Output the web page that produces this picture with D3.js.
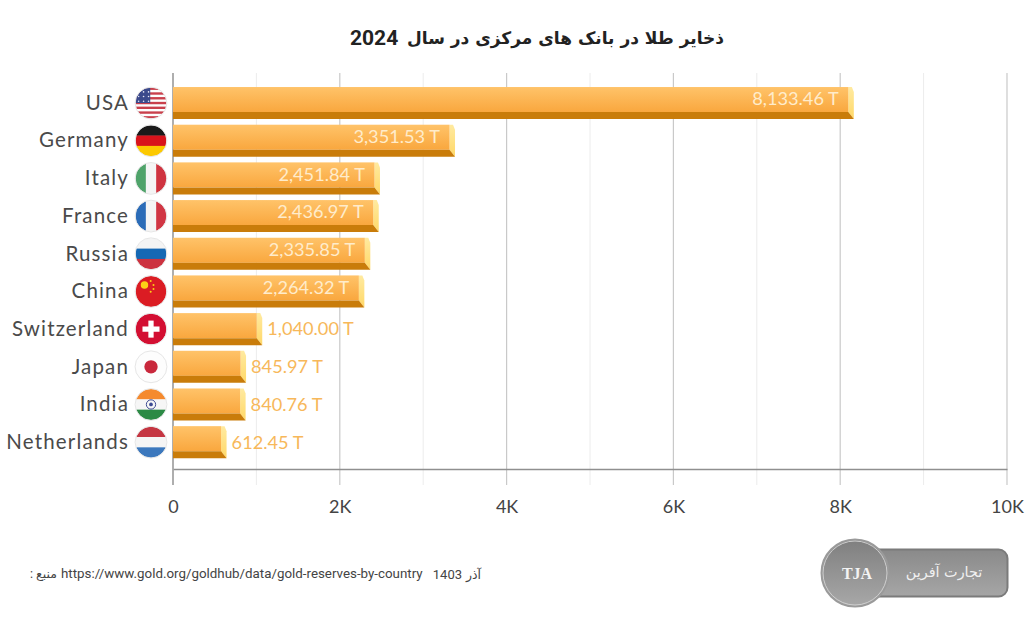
<!DOCTYPE html>
<html lang="en">
<head>
  <meta charset="UTF-8">
  <title>Gold reserves 2024</title>
  <style>
body { margin: 0; background: #fff; }
svg { display: block; }
.country { font-family: Lato, sans-serif; font-size: 20.5px; fill: #4a4a4a; letter-spacing: 1.15px; }
.value { font-family: Lato, sans-serif; font-size: 18.2px; }
.tick text { font-family: Lato, sans-serif; font-size: 18px; fill: #444; }
  </style>
</head>
<body>
  <div id="chart"></div>
  <script src="https://d3js.org/d3.v7.min.js"></script>
  <script>
const countries = ["USA", "Germany", "Italy", "France", "Russia", "China", "Switzerland", "Japan", "India", "Netherlands"];
const reserves = [8133.46, 3351.53, 2451.84, 2436.97, 2335.85, 2264.32, 1040.00, 845.97, 840.76, 612.45];
const majorTicks = [0, 2000, 4000, 6000, 8000, 10000];
const minorTicks = [1000, 3000, 5000, 7000, 9000];
const titleText = "ذخایر طلا در بانک های مرکزی در سال";
const titleYear = "2024";

const width = 1030, height = 620;
const plotLeft = 173, plotRight = 1007, plotTop = 73, axisY = 469, axisEnd = 485;

const x = d3.scaleLinear().domain([0, 10000]).range([plotLeft, plotRight]);
const y = d3.scaleBand().domain(countries).range([84.2, 461]).paddingInner(0.15).paddingOuter(0.075);

const svg = d3.select("#chart").append("svg").attr("width", width).attr("height", height);
const defs = svg.append("defs");

const grad = defs.append("linearGradient").attr("id", "face").attr("x1", 0).attr("x2", 0).attr("y1", 0).attr("y2", 1);
grad.append("stop").attr("offset", "0%").attr("stop-color", "#ffc369");
grad.append("stop").attr("offset", "100%").attr("stop-color", "#f9a73e");

const bevel = defs.append("linearGradient").attr("id", "bevel").attr("x1", 0).attr("x2", 0).attr("y1", 0).attr("y2", 1);
bevel.append("stop").attr("offset", "0%").attr("stop-color", "#ffeaa0");
bevel.append("stop").attr("offset", "100%").attr("stop-color", "#ffd868");

const btn = defs.append("linearGradient").attr("id", "btn").attr("x1", 0).attr("x2", 0).attr("y1", 0).attr("y2", 1);
btn.append("stop").attr("offset", "0%").attr("stop-color", "#8a8a8a");
btn.append("stop").attr("offset", "100%").attr("stop-color", "#a6a6a6");

const disc = defs.append("linearGradient").attr("id", "disc").attr("x1", 0).attr("x2", 0).attr("y1", 0).attr("y2", 1);
disc.append("stop").attr("offset", "0%").attr("stop-color", "#7f7f7f");
disc.append("stop").attr("offset", "100%").attr("stop-color", "#a8a8a8");

// grid
svg.append("g").selectAll("line").data(minorTicks).join("line")
  .attr("x1", x).attr("x2", x).attr("y1", plotTop).attr("y2", axisEnd)
  .attr("stroke", "#ececec").attr("stroke-width", 1);
svg.append("g").selectAll("line").data(majorTicks.slice(1)).join("line")
  .attr("x1", x).attr("x2", x).attr("y1", plotTop).attr("y2", axisEnd)
  .attr("stroke", "#c9c9c9").attr("stroke-width", 1.2);

// x axis
const axis = svg.append("g").attr("transform", `translate(0,${axisY})`)
  .call(d3.axisBottom(x).tickValues(majorTicks).tickSize(0).tickPadding(31)
    .tickFormat(d => d === 0 ? "0" : d / 1000 + "K"));
axis.select(".domain").attr("stroke", "#8f8f8f").attr("stroke-width", 1.4);

svg.append("line").attr("x1", plotLeft).attr("x2", plotLeft).attr("y1", plotTop).attr("y2", axisEnd)
  .attr("stroke", "#9a9a9a").attr("stroke-width", 1.6);

// bars: front face, bottom strip, right bevel
const depth = 7, over = 2.5, inset = 3;
const rows = svg.append("g").selectAll("g").data(countries).join("g")
  .attr("transform", d => `translate(0,${y(d)})`);

rows.each(function(name, i) {
  const g = d3.select(this);
  const end = x(reserves[i]);
  const h = y.bandwidth();
  g.append("path")
    .attr("d", `M${end - inset},0 L${end + 0.5},0 L${end + over},5 L${end + over},${h} L${end - inset},${h - depth} Z`)
    .attr("fill", "url(#bevel)");
  g.append("rect").attr("x", plotLeft).attr("y", 0).attr("width", end - inset - plotLeft).attr("height", h - depth)
    .attr("fill", "url(#face)");
  g.append("path")
    .attr("d", `M${plotLeft},${h - depth} L${end - inset},${h - depth} L${end + over},${h} L${plotLeft},${h} Z`)
    .attr("fill", "#c97c0a");
});

// value labels
rows.append("text").attr("class", "value")
  .attr("x", (d, i) => reserves[i] > 2000 ? x(reserves[i]) - 12.5 : x(reserves[i]) + 7.5)
  .attr("y", (d, i) => reserves[i] > 2000 ? y.bandwidth() / 2 - 4 : y.bandwidth() / 2)
  .attr("dy", ".35em")
  .attr("text-anchor", (d, i) => reserves[i] > 2000 ? "end" : "start")
  .attr("fill", (d, i) => reserves[i] > 2000 ? "#ffeccb" : "#f7b85a")
  .text((d, i) => d3.format(",.2f")(reserves[i]) + " T");

// country labels
rows.append("text").attr("class", "country")
  .attr("x", 129).attr("y", y.bandwidth() / 2).attr("dy", ".33em")
  .attr("text-anchor", "end").text(d => d);

// flags
const flagR = 15.5, flagX = 151;
const hStripes = {
  Germany: ["#1a1a1a", "#d8131b", "#fcc900"],
  Russia: ["#f4f4f4", "#1568b4", "#cc3340"],
  India: ["#f58a2e", "#f6f6f6", "#2c8a45"],
  Netherlands: ["#c53642", "#f5f5f5", "#3c78bd"]
};
const vStripes = {
  Italy: ["#4fa36a", "#f5f5f5", "#cf3440"],
  France: ["#2b6cb8", "#f5f5f5", "#d13644"]
};

function drawFlag(g, name) {
  const r = flagR, d = r * 2;
  const clipId = "clip-" + name;
  defs.append("clipPath").attr("id", clipId).append("circle").attr("r", r);
  const f = g.append("g").attr("clip-path", `url(#${clipId})`);
  f.append("circle").attr("r", r).attr("fill", "#fdfdfd");
  if (hStripes[name]) {
    hStripes[name].forEach((c, k) => f.append("rect").attr("x", -r).attr("y", -r + k * d / 3)
      .attr("width", d).attr("height", d / 3 + 0.3).attr("fill", c));
  }
  if (vStripes[name]) {
    vStripes[name].forEach((c, k) => f.append("rect").attr("y", -r).attr("x", -r + k * d / 3)
      .attr("height", d).attr("width", d / 3 + 0.3).attr("fill", c));
  }
  if (name === "USA") {
    d3.range(7).forEach(k => f.append("rect").attr("x", -r).attr("y", -r + k * d / 6.5)
      .attr("width", d).attr("height", d / 13).attr("fill", "#c9404c"));
    f.append("rect").attr("x", -r).attr("y", -r).attr("width", r * 0.95).attr("height", r).attr("fill", "#3b4a8c");
    d3.range(3).forEach(a => d3.range(3).forEach(b => f.append("circle")
      .attr("cx", -r * 0.8 + b * r * 0.32).attr("cy", -r * 0.72 + a * r * 0.3).attr("r", 0.8).attr("fill", "#e8e8f5")));
  }
  if (name === "China") {
    f.append("rect").attr("x", -r).attr("y", -r).attr("width", d).attr("height", d).attr("fill", "#db1c23");
    f.append("circle").attr("cx", -r * 0.42).attr("cy", -r * 0.42).attr("r", r * 0.24).attr("fill", "#fcd116");
    [[-0.02, -0.68], [0.16, -0.42], [0.16, -0.16], [-0.02, 0.02]].forEach(p => f.append("circle")
      .attr("cx", p[0] * r).attr("cy", p[1] * r).attr("r", 1).attr("fill", "#fcd116"));
  }
  if (name === "Switzerland") {
    f.append("rect").attr("x", -r).attr("y", -r).attr("width", d).attr("height", d).attr("fill", "#d30f32");
    f.append("rect").attr("x", -r * 0.55).attr("y", -r * 0.17).attr("width", r * 1.1).attr("height", r * 0.34).attr("fill", "#fff");
    f.append("rect").attr("x", -r * 0.17).attr("y", -r * 0.55).attr("width", r * 0.34).attr("height", r * 1.1).attr("fill", "#fff");
  }
  if (name === "Japan") {
    f.append("circle").attr("r", r * 0.43).attr("fill", "#c9283c");
  }
  if (name === "India") {
    f.append("circle").attr("r", r * 0.3).attr("fill", "none").attr("stroke", "#3c4a92").attr("stroke-width", 1);
    f.append("circle").attr("r", r * 0.12).attr("fill", "#3c4a92");
  }
  g.append("circle").attr("r", r + 0.4).attr("fill", "none").attr("stroke", "#e6e6e6").attr("stroke-width", 1);
}

rows.append("g").attr("transform", `translate(${flagX},${y.bandwidth() / 2})`)
  .each(function(d) { drawFlag(d3.select(this), d); });

// title, arabic part and year set apart so the year can use a larger latin face
svg.append("text").attr("x", 724).attr("y", 43.5).attr("text-anchor", "start")
  .style("font-family", "'DejaVu Sans', sans-serif").style("font-weight", "bold").style("font-size", "17px")
  .attr("fill", "#222").attr("direction", "rtl").text(titleText);
svg.append("text").attr("x", 350).attr("y", 44.5)
  .style("font-family", "Roboto, sans-serif").style("font-weight", "bold").style("font-size", "21px")
  .attr("fill", "#222").text(titleYear);

// footer
const foot = svg.append("g").style("font-family", "Roboto, 'DejaVu Sans', sans-serif").style("font-size", "12.5px").attr("fill", "#444");
foot.append("text").attr("x", 462).attr("y", 579).attr("text-anchor", "end").style("font-size", "13px").text("1403");
foot.append("text").attr("x", 481).attr("y", 579).attr("text-anchor", "end").text("آذر");
foot.append("text").attr("x", 61).attr("y", 577.5).style("font-size", "13.35px").text("https://www.gold.org/goldhub/data/gold-reserves-by-country");
foot.append("text").attr("x", 57).attr("y", 578).attr("direction", "rtl").attr("text-anchor", "start").text("منبع :");

// logo
const logo = svg.append("g");
logo.append("rect").attr("x", 860).attr("y", 549.5).attr("width", 147.5).attr("height", 47).attr("rx", 9)
  .attr("fill", "url(#btn)").attr("stroke", "#7b7b7b").attr("stroke-width", 2);
logo.append("circle").attr("cx", 855).attr("cy", 573).attr("r", 33.5)
  .attr("fill", "url(#disc)").attr("stroke", "#9a9a9a").attr("stroke-width", 2);
logo.append("circle").attr("cx", 855).attr("cy", 573).attr("r", 32)
  .attr("fill", "none").attr("stroke", "#cfcfcf").attr("stroke-width", 1);
logo.append("text").attr("x", 857).attr("y", 578.5).attr("text-anchor", "middle")
  .style("font-family", "'Liberation Serif', serif").style("font-weight", "bold").style("font-size", "16px")
  .attr("fill", "#f3f3f3").text("TJA");
logo.append("text").attr("x", 944).attr("y", 577).attr("text-anchor", "middle")
  .style("font-family", "'DejaVu Sans', sans-serif").style("font-size", "14.4px")
  .attr("fill", "#f0f0f0").attr("direction", "rtl").text("تجارت آفرین");
  </script>
</body>
</html>
